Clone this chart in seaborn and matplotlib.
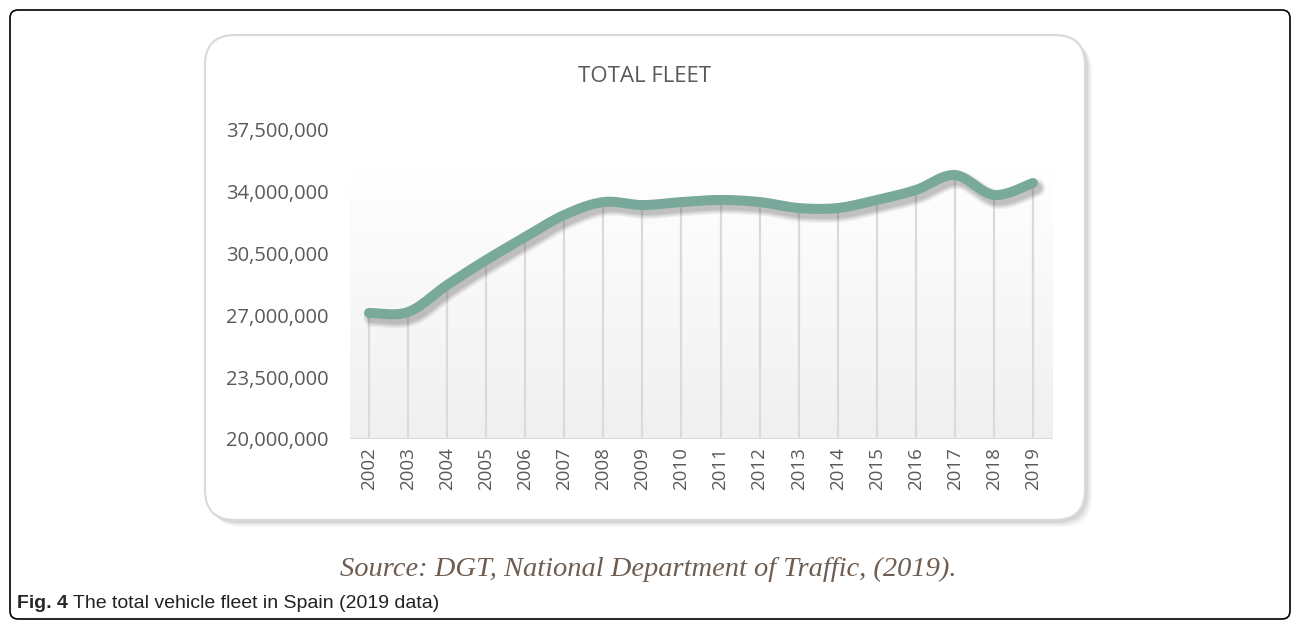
import numpy as np
import pandas as pd
import matplotlib
matplotlib.use("Agg")
import matplotlib.pyplot as plt
import matplotlib.patheffects as pe
from matplotlib.patches import FancyBboxPatch
from matplotlib.transforms import IdentityTransform
from matplotlib.ticker import FuncFormatter
import seaborn as sns

# Data
years = [2002, 2003, 2004, 2005, 2006, 2007, 2008, 2009, 2010,
         2011, 2012, 2013, 2014, 2015, 2016, 2017, 2018, 2019]
fleet = [27140000, 27190000, 28720000, 30140000, 31440000, 32690000,
         33420000, 33250000, 33420000, 33540000, 33420000, 33080000,
         33080000, 33540000, 34100000, 34950000, 33820000, 34500000]
y_ticks = [20000000, 23500000, 27000000, 30500000, 34000000, 37500000]

title = "TOTAL FLEET"
source = "Source: DGT, National Department of Traffic, (2019)."
caption_bold = "Fig. 4"
caption = " The total vehicle fleet in Spain (2019 data)"

sns.set_style("white")
plt.rcParams['font.family'] = ['Open Sans', 'DejaVu Sans']

LINE = '#79a99b'
TXT = '#595959'

W, H = 1295, 626
fig = plt.figure(figsize=(W / 100, H / 100), dpi=100)
fig.patch.set_facecolor('white')
px = IdentityTransform()


def rbox(x0, y0, x1, y1, r, **kw):
    # box given in image pixels (y down), drawn in display coords
    return FancyBboxPatch((x0, H - y1), x1 - x0, y1 - y0,
                          boxstyle=f"round,pad=0,rounding_size={r}",
                          transform=px, **kw)


# outer frame
fig.add_artist(rbox(10, 10, 1290, 619, 8, facecolor='white', edgecolor='black',
                    linewidth=1.2, zorder=0))
# chart panel shadow + panel
for i, a in enumerate([0.06, 0.08, 0.10, 0.12]):
    d = 7 - i * 1.5
    fig.add_artist(rbox(205 + d, 35 + d, 1085 + d, 520 + d, 30,
                        facecolor='#7f7f7f', edgecolor='none', alpha=a, zorder=1))
fig.add_artist(rbox(205, 35, 1085, 520, 30, facecolor='white',
                    edgecolor='#d9d9d9', linewidth=1.5, zorder=2))

ax = fig.add_axes([349.5 / W, 1 - 439 / H, 703 / W, 309 / H], zorder=3)
ax.patch.set_alpha(0)

idx = np.arange(len(years))

# background gradient of the plot area
grad = np.linspace(0, 1, 256).reshape(-1, 1)
ax.imshow(grad, extent=[-0.5, len(years) - 0.5, 20000000, 35500000],
          aspect='auto', origin='upper', zorder=0,
          cmap=matplotlib.colors.LinearSegmentedColormap.from_list(
              'bg', ['#f0f0f0', '#ffffff']).reversed())

# drop lines
ax.vlines(idx, 20000000, fleet, color='#dadada', linewidth=1.6, zorder=1)
ax.axhline(20000000, color='#d9d9d9', linewidth=1.5, zorder=1)


# smoothed line rendering (Catmull-Rom through the data points)
def smooth(xs, ys, n=24):
    xs = np.asarray(xs, float)
    ys = np.asarray(ys, float)
    P = np.column_stack([xs, ys])
    P = np.vstack([P[0], P, P[-1]])
    out = []
    t = np.linspace(0, 1, n, endpoint=False)
    for i in range(1, len(P) - 2):
        p0, p1, p2, p3 = P[i - 1], P[i], P[i + 1], P[i + 2]
        tt = t[:, None]
        seg = 0.5 * ((2 * p1) + (-p0 + p2) * tt +
                     (2 * p0 - 5 * p1 + 4 * p2 - p3) * tt ** 2 +
                     (-p0 + 3 * p1 - 3 * p2 + p3) * tt ** 3)
        out.append(seg)
    out.append(P[-2][None, :])
    return np.vstack(out)


curve = smooth(idx, fleet)
df = pd.DataFrame({'x': curve[:, 0], 'y': curve[:, 1]})

# soft shadow: a few widening, faint strokes
shadow = [pe.SimpleLineShadow(offset=(2.5, -3.5), shadow_color='#404040',
                              alpha=0.07, linewidth=7.2 + w)
          for w in (6, 4, 2.5, 1, 0)]
sns.lineplot(data=df, x='x', y='y', ax=ax, color=LINE, linewidth=7.2,
             sort=False, estimator=None, zorder=4,
             solid_capstyle='round', solid_joinstyle='round',
             path_effects=shadow + [pe.Normal()])

ax.set_xlim(-0.5, len(years) - 0.5)
ax.set_ylim(20000000, 37500000)
ax.set_xticks(idx)
ax.set_xticklabels([str(y) for y in years], rotation=90, fontsize=13.5, color=TXT)
ax.set_yticks(y_ticks)
ax.yaxis.set_major_formatter(FuncFormatter(lambda v, p: f"{int(v):,}"))
ax.tick_params(axis='y', length=0, pad=15, labelsize=14.5, labelcolor=TXT)
ax.tick_params(axis='x', length=0, pad=6)
ax.set_xlabel('')
ax.set_ylabel('')
for s in ax.spines.values():
    s.set_visible(False)
ax.grid(False)

fig.text(645 / W, 1 - 76 / H, title, ha='center', va='center', fontsize=16,
         color=TXT, zorder=5)
fig.text(648 / W, 1 - 569 / H, source, ha='center', va='center', fontsize=20.5,
         family=['Liberation Serif', 'DejaVu Serif'], style='italic', color='#6e5d50')
cap_font = ['Liberation Sans Narrow', 'Liberation Sans', 'DejaVu Sans']
t1 = fig.text(17 / W, 1 - 603 / H, caption_bold, ha='left', va='center', fontsize=14,
              weight='bold', family=cap_font)
fig.canvas.draw()
bb = t1.get_window_extent()
fig.text(bb.x1 / W, 1 - 603 / H, caption, ha='left', va='center', fontsize=14,
         family=cap_font, color='#222222')

fig.savefig('out.png', dpi=100)
